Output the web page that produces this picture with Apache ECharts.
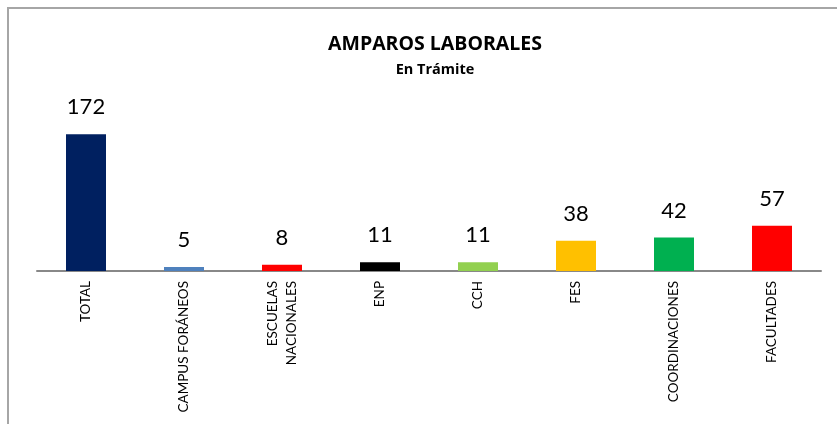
<!DOCTYPE html>
<html>
<head>
<meta charset="utf-8">
<script src="https://cdn.jsdelivr.net/npm/echarts@6/dist/echarts.min.js"></script>
<style>
  html, body { margin: 0; padding: 0; background: #fff; }
  #chart { width: 837px; height: 424px; }
</style>
</head>
<body>
<div id="chart"></div>
<script>
  var categories = ['TOTAL', 'CAMPUS FORÁNEOS', 'ESCUELAS\nNACIONALES', 'ENP', 'CCH', 'FES', 'COORDINACIONES', 'FACULTADES'];
  var values = [172, 5, 8, 11, 11, 38, 42, 57];
  var barColors = ['#002060', '#4F81BD', '#FF0000', '#000000', '#92D050', '#FFC000', '#00B050', '#FF0000'];

  var myChart = echarts.init(document.getElementById('chart'));
  var option = {
    animation: false,
    textStyle: { fontFamily: 'Lato' },
    title: {
      text: 'AMPAROS LABORALES',
      subtext: 'En Trámite',
      left: 430,
      textAlign: 'center',
      top: 29,
      itemGap: 8,
      textStyle: { fontSize: 19.5, fontWeight: 'bold', color: '#000', fontFamily: 'Open Sans' },
      subtextStyle: { fontSize: 14.5, fontWeight: 'bold', color: '#000', fontFamily: 'Open Sans' }
    },
    graphic: [{
      type: 'rect',
      shape: { x: 8, y: 8, width: 900, height: 500 },
      style: { fill: 'none', stroke: '#A6A6A6', lineWidth: 2 },
      silent: true
    }],
    grid: { left: 37, right: 16, top: 112, bottom: 153 },
    xAxis: {
      type: 'category',
      data: categories,
      axisLine: { lineStyle: { color: '#888', width: 2 } },
      axisTick: { show: false },
      axisLabel: { rotate: 90, interval: 0, fontSize: 13.5, color: '#000', fontFamily: 'Lato', margin: 10, lineHeight: 19 }
    },
    yAxis: {
      type: 'value',
      min: 0,
      max: 200,
      show: false,
      splitLine: { show: false }
    },
    series: [{
      type: 'bar',
      data: values.map(function (v, i) { return { value: v, itemStyle: { color: barColors[i] } }; }),
      barWidth: 40,
      label: {
        show: true,
        position: 'top',
        distance: 16,
        fontSize: 22,
        color: '#000',
        fontFamily: 'Lato'
      }
    }]
  };
  option && myChart.setOption(option);
</script>
</body>
</html>
